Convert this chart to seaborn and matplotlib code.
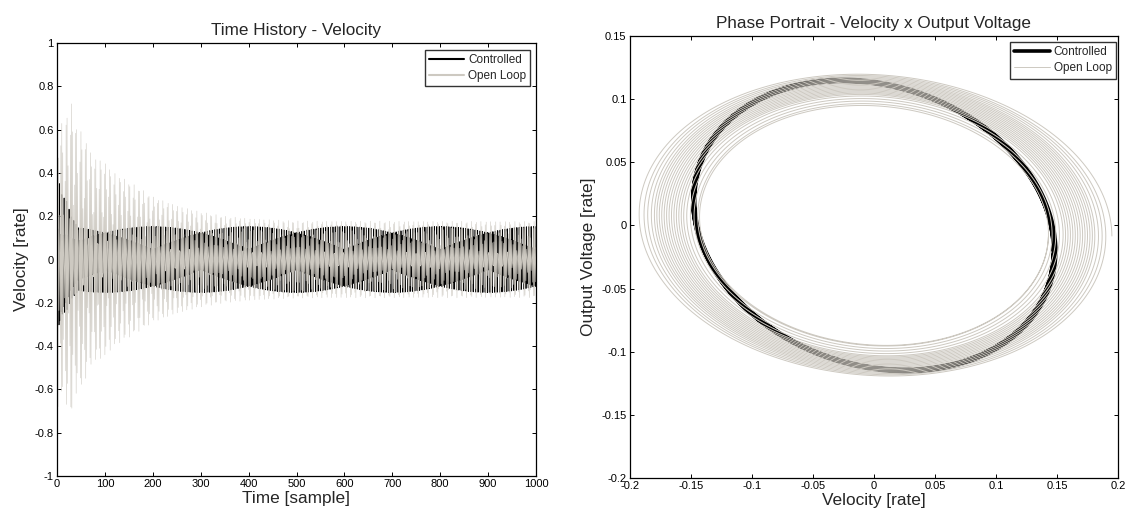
import numpy as np
import pandas as pd
import matplotlib
matplotlib.use("Agg")
import matplotlib.pyplot as plt
import seaborn as sns

# ---------------- data ----------------
# Time history: amplitude envelopes (sample index -> peak velocity)
ctrl_env_t = [0, 5, 10, 20, 30, 45, 1000]
ctrl_env_v = [0.50, 0.35, 0.30, 0.27, 0.20, 0.152, 0.152]
ol_env_t = [0, 5, 12, 28, 40, 55, 75, 95, 120, 150, 180, 200, 250, 300, 350, 400, 500, 1000]
ol_env_v = [0.93, 0.70, 0.60, 0.74, 0.62, 0.58, 0.47, 0.46, 0.40, 0.36, 0.32, 0.29, 0.25, 0.22, 0.20, 0.19, 0.178, 0.176]
ctrl_freq = 0.4010      # cycles / sample (aliased oscillation)
ol_freq = 0.4503
n_samples = 1000

# Phase portrait: per-loop amplitudes (velocity, voltage)
ctrl_loop_vel = [0.147, 0.148, 0.149, 0.148, 0.147]
ctrl_loop_volt = [0.114, 0.115, 0.116, 0.115, 0.114]
ol_loop_vel = [0.195, 0.190, 0.187, 0.184, 0.181, 0.179, 0.177, 0.175, 0.173, 0.171,
               0.169, 0.167, 0.165, 0.163, 0.161, 0.159, 0.157, 0.155, 0.152, 0.149,
               0.146, 0.143]
ol_loop_volt = [0.120, 0.119, 0.118, 0.117, 0.116, 0.115, 0.114, 0.113, 0.112, 0.111,
                0.110, 0.109, 0.108, 0.107, 0.106, 0.105, 0.104, 0.103, 0.101, 0.099,
                0.097, 0.095]
ctrl_lag_deg = 100
ol_lag_deg = 94

# Tick labels
left_xticks = [0, 100, 200, 300, 400, 500, 600, 700, 800, 900, 1000]
left_yticks = [-1, -0.8, -0.6, -0.4, -0.2, 0, 0.2, 0.4, 0.6, 0.8, 1]
left_ylabels = ["-1", "-0.8", "-0.6", "-0.4", "-0.2", "0", "0.2", "0.4", "0.6", "0.8", "1"]
right_xticks = [-0.2, -0.15, -0.1, -0.05, 0, 0.05, 0.1, 0.15, 0.2]
right_xlabels = ["-0.2", "-0.15", "-0.1", "-0.05", "0", "0.05", "0.1", "0.15", "0.2"]
right_yticks = [-0.2, -0.15, -0.1, -0.05, 0, 0.05, 0.1, 0.15]
right_ylabels = ["-0.2", "-0.15", "-0.1", "-0.05", "0", "0.05", "0.1", "0.15"]

OL_COLOR = "#cdc9c1"

# ---------------- build series ----------------
t = np.arange(n_samples + 1)
vel_ctrl = np.interp(t, ctrl_env_t, ctrl_env_v) * np.cos(2 * np.pi * ctrl_freq * t)
vel_ol = np.interp(t, ol_env_t, ol_env_v) * np.cos(2 * np.pi * ol_freq * t + np.pi)


def loops(avel, avolt, lag_deg, npts=240):
    xs, ys = [], []
    lag = np.deg2rad(lag_deg)
    for i in range(len(avel)):
        a0, a1 = avel[i], avel[min(i + 1, len(avel) - 1)]
        b0, b1 = avolt[i], avolt[min(i + 1, len(avolt) - 1)]
        th = np.linspace(0, 2 * np.pi, npts, endpoint=False)
        f = th / (2 * np.pi)
        a = a0 + (a1 - a0) * f
        b = b0 + (b1 - b0) * f
        xs.append(a * np.cos(th))
        ys.append(b * np.cos(th - lag))
    return np.concatenate(xs), np.concatenate(ys)


px_c, py_c = loops(ctrl_loop_vel, ctrl_loop_volt, ctrl_lag_deg)
px_o, py_o = loops(ol_loop_vel, ol_loop_volt, ol_lag_deg)

# ---------------- styling ----------------
sns.set_style("white")
plt.rcParams["font.family"] = ["Liberation Sans", "DejaVu Sans"]
plt.rcParams["axes.unicode_minus"] = False
plt.rcParams["path.simplify"] = False

fig = plt.figure(figsize=(11.29, 5.19), dpi=100)
ax1 = fig.add_axes([57 / 1129, 43 / 519, 479 / 1129, 433 / 519])
ax2 = fig.add_axes([630 / 1129, 41 / 519, 488 / 1129, 442 / 519])

# Left: time history
sns.lineplot(x=t, y=vel_ctrl, ax=ax1, color="black", lw=0.7, sort=False,
             estimator=None, label="Controlled")
sns.lineplot(x=t, y=vel_ol, ax=ax1, color=OL_COLOR, lw=0.4, sort=False,
             estimator=None, label="Open Loop")
ax1.set_xlim(0, 1000)
ax1.set_ylim(-1, 1)
ax1.set_xticks(left_xticks)
ax1.set_xticklabels([str(v) for v in left_xticks])
ax1.set_yticks(left_yticks)
ax1.set_yticklabels(left_ylabels)
ax1.set_title("Time History - Velocity", fontsize=12.3, pad=6)
ax1.set_xlabel("Time [sample]", fontsize=12.4, labelpad=1)
ax1.set_ylabel("Velocity [rate]", fontsize=12.4, labelpad=4)

# Right: phase portrait
sns.lineplot(x=px_c, y=py_c, ax=ax2, color="black", lw=2.6, sort=False,
             estimator=None, label="Controlled")
sns.lineplot(x=px_o, y=py_o, ax=ax2, color=OL_COLOR, lw=0.7, sort=False,
             estimator=None, label="Open Loop")
ax2.set_xlim(-0.2, 0.2)
ax2.set_ylim(-0.2, 0.15)
ax2.set_xticks(right_xticks)
ax2.set_xticklabels(right_xlabels)
ax2.set_yticks(right_yticks)
ax2.set_yticklabels(right_ylabels)
ax2.set_title("Phase Portrait - Velocity x Output Voltage", fontsize=12.3, pad=6)
ax2.set_xlabel("Velocity [rate]", fontsize=12.4, labelpad=1)
ax2.set_ylabel("Output Voltage [rate]", fontsize=12.4, labelpad=4)

for ax in (ax1, ax2):
    ax.grid(False)
    for s in ax.spines.values():
        s.set_visible(True)
        s.set_color("black")
        s.set_linewidth(0.9)
    ax.tick_params(direction="in", length=3, width=0.7, labelsize=8,
                   top=True, right=True, bottom=True, left=True, pad=2.5,
                   colors="black")

leg1 = ax1.legend(loc="upper right", bbox_to_anchor=(0.988, 0.984), fontsize=8.5,
                  frameon=True, fancybox=False, edgecolor="black",
                  handlelength=3.0, handletextpad=0.3, borderpad=0.35,
                  labelspacing=0.35, borderaxespad=0)
leg1.get_frame().set_linewidth(1.0)
for ln in leg1.get_lines():
    ln.set_linewidth(1.5)
leg2 = ax2.legend(loc="upper right", bbox_to_anchor=(0.996, 0.986), fontsize=8.5,
                  frameon=True, fancybox=False, edgecolor="black",
                  handlelength=3.1, handletextpad=0.3, borderpad=0.35,
                  labelspacing=0.35, borderaxespad=0)
leg2.get_frame().set_linewidth(1.0)

fig.savefig("out.png", dpi=100, facecolor="white")
